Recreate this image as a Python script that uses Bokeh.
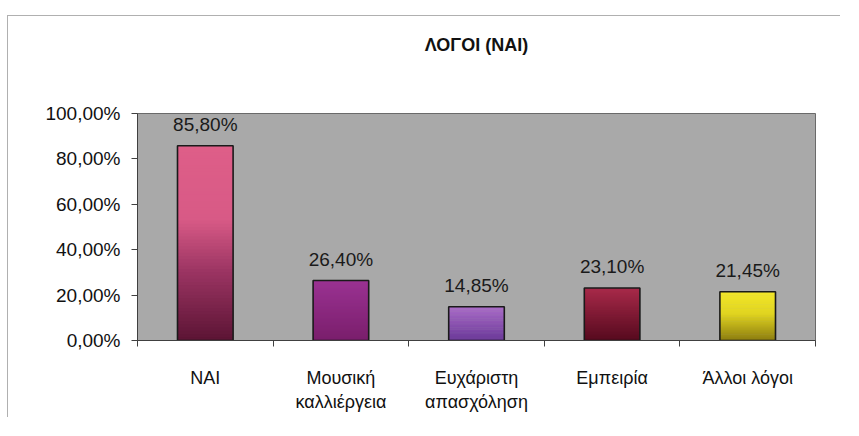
from bokeh.plotting import figure
from bokeh.models import Range1d, FixedTicker, ColumnDataSource, LinearAxis
from bokeh.core.properties import value
from bokeh.embed import file_html
from bokeh.resources import INLINE

# ---- data ----
categories = ["ΝΑΙ", "Μουσική\nκαλλιέργεια", "Ευχάριστη\nαπασχόληση", "Εμπειρία", "Άλλοι λόγοι"]
values = [0.858, 0.264, 0.1485, 0.231, 0.2145]
value_labels = ["85,80%", "26,40%", "14,85%", "23,10%", "21,45%"]
y_ticks = [0.0, 0.2, 0.4, 0.6, 0.8, 1.0]
y_tick_labels = ["0,00%", "20,00%", "40,00%", "60,00%", "80,00%", "100,00%"]
title_text = "ΛΟΓΟΙ (ΝΑΙ)"

# gradient stops per bar: (fraction from bottom, colour)
bar_stops = [
    [(0.0, "#5c1434"), (0.35, "#9a3462"), (0.62, "#d85a86"), (1.0, "#de5e88")],
    [(0.0, "#7a1e6c"), (1.0, "#9a3292")],
    [(0.0, "#6a3898"), (1.0, "#aa6cc8")],
    [(0.0, "#560a1e"), (1.0, "#a82a4a")],
    [(0.0, "#8c7c10"), (0.55, "#e0d420"), (1.0, "#f2e62a")],
]

FONT = "Liberation Sans"
BAR_W = 0.41
N_SLICES = 60


def hex2rgb(h):
    h = h.lstrip("#")
    return tuple(int(h[i:i + 2], 16) for i in (0, 2, 4))


def interp(stops, t):
    for (t0, c0), (t1, c1) in zip(stops[:-1], stops[1:]):
        if t0 <= t <= t1:
            f = 0 if t1 == t0 else (t - t0) / (t1 - t0)
            a, b = hex2rgb(c0), hex2rgb(c1)
            return "#%02x%02x%02x" % tuple(round(a[k] + (b[k] - a[k]) * f) for k in range(3))
    return stops[-1][1]


n = len(categories)
centers = [i + 0.5 for i in range(n)]

p = figure(width=833, height=402, x_range=Range1d(0, n), y_range=Range1d(0, 1.0),
           output_backend="svg", toolbar_location=None,
           min_border_left=129, min_border_right=26, min_border_top=97, min_border_bottom=78)
p.styles = {"border-left": "1px solid #b0b0b0", "border-top": "1px solid #b0b0b0",
            "margin-left": "7px", "margin-top": "15px"}

p.background_fill_color = "#a9a9a9"
p.border_fill_color = "white"
p.outline_line_color = "#6a6a6a"
p.xgrid.grid_line_color = None
p.ygrid.grid_line_color = None

# chart title, drawn as the label of an otherwise invisible axis above the frame
top_axis = LinearAxis(ticker=FixedTicker(ticks=[], minor_ticks=[]),
                      axis_line_color=None, major_tick_line_color=None,
                      minor_tick_line_color=None, major_tick_out=0, major_tick_in=0,
                      minor_tick_out=0, minor_tick_in=0, major_label_standoff=0,
                      axis_label=title_text, axis_label_standoff=59,
                      axis_label_text_font=FONT, axis_label_text_font_size="18px",
                      axis_label_text_font_style="bold", axis_label_text_color="#111111")
p.add_layout(top_axis, "above")

# gradient bars made of overlapping slices (drawn bottom to top)
src = dict(left=[], right=[], bottom=[], top=[], color=[])
for i, v in enumerate(values):
    for k in range(N_SLICES):
        src["left"].append(centers[i] - BAR_W / 2)
        src["right"].append(centers[i] + BAR_W / 2)
        src["bottom"].append(v * k / N_SLICES)
        src["top"].append(v * min(k + 1.8, N_SLICES) / N_SLICES)
        src["color"].append(interp(bar_stops[i], (k + 0.5) / N_SLICES))
p.quad(left="left", right="right", bottom="bottom", top="top", fill_color="color",
       line_color=None, source=ColumnDataSource(src))

bars = ColumnDataSource(dict(x=centers, top=values, lab=value_labels))
p.vbar(x="x", top="top", bottom=0, width=BAR_W, fill_color=None, line_color="#1a1a1a",
       line_width=1.6, source=bars)
p.text(x="x", y="top", text="lab", source=bars, text_align="center", text_baseline="bottom",
       y_offset=-11, text_font=value(FONT), text_font_size="19px", text_color="#1a1a1a")

# x axis
xax = p.below[0]
xax.ticker = FixedTicker(ticks=centers, minor_ticks=list(range(n + 1)))
xax.major_label_overrides = {c: lab for c, lab in zip(centers, categories)}
xax.major_tick_line_color = None
xax.major_tick_out = 0
xax.major_tick_in = 0
xax.minor_tick_in = 0
xax.minor_tick_out = 6
xax.minor_tick_line_color = "#404040"
xax.axis_line_color = "#404040"
xax.major_label_standoff = 21
xax.major_label_text_font = FONT
xax.major_label_text_font_size = "18px"
xax.major_label_text_color = "#111111"

# y axis
yax = p.left[0]
yax.ticker = FixedTicker(ticks=y_ticks, minor_ticks=[])
yax.major_label_overrides = {t: lab for t, lab in zip(y_ticks, y_tick_labels)}
yax.major_tick_in = 0
yax.major_tick_out = 6
yax.major_tick_line_color = "#404040"
yax.axis_line_color = "#404040"
yax.major_label_standoff = 11
yax.major_label_text_font = FONT
yax.major_label_text_font_size = "19px"
yax.major_label_text_color = "#111111"

open("out.html", "w").write(file_html(p, INLINE))
